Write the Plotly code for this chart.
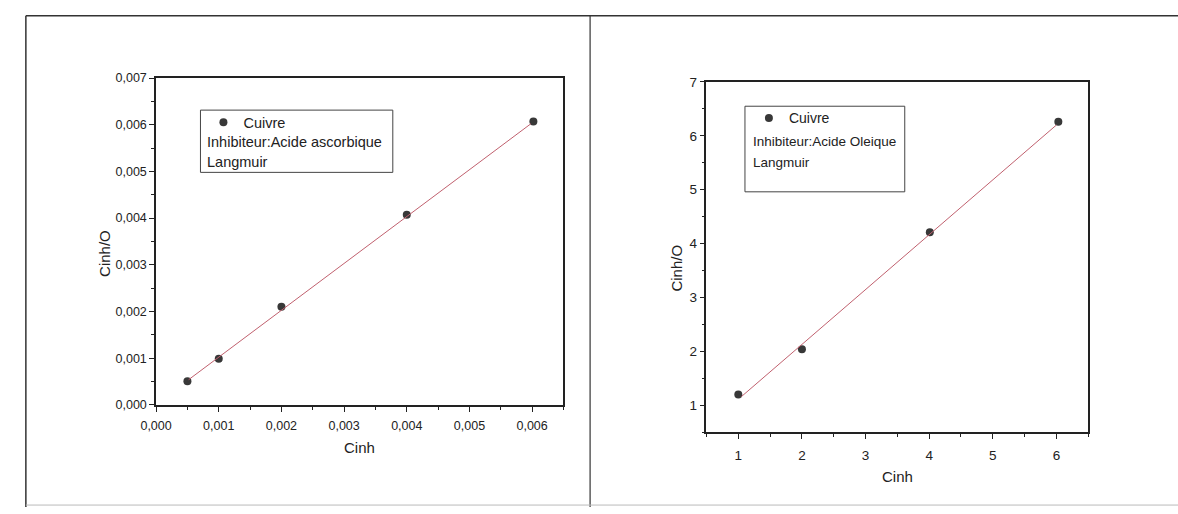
import plotly.graph_objects as go

W, H = 1178, 514

# ---------------- data ----------------
left_x = [0.0005, 0.001, 0.002, 0.004, 0.00602]
left_y = [0.000506, 0.00099, 0.0021, 0.00407, 0.00607]
left_fit_x = [0.00052, 0.00598]
left_fit_y = [0.00054, 0.00602]

right_x = [1.0, 2.0, 4.01, 6.03]
right_y = [1.2, 2.04, 4.21, 6.26]
right_fit_x = [1.05, 6.0]
right_fit_y = [1.16, 6.2]

left_xticks = [0, 0.001, 0.002, 0.003, 0.004, 0.005, 0.006]
left_yticks = [0, 0.001, 0.002, 0.003, 0.004, 0.005, 0.006, 0.007]
right_xticks = [1, 2, 3, 4, 5, 6]
right_yticks = [1, 2, 3, 4, 5, 6, 7]

series_name = "Cuivre"
left_notes = ["Inhibiteur:Acide ascorbique", "Langmuir"]
right_notes = ["Inhibiteur:Acide Oleique", "Langmuir"]
x_title = "Cinh"
y_title = "Cinh/O"

# ---------------- helpers ----------------
def px(x):
    return x / W

def py(y):
    return 1 - y / H

FONT = "Liberation Sans, Arial, sans-serif"
DOT = "#383838"
FIT = "#c0606e"

fig = go.Figure()

fig.add_trace(go.Scatter(x=left_x, y=left_y, mode="markers", name=series_name,
                         marker=dict(size=8, color=DOT), xaxis="x", yaxis="y",
                         legend="legend"))
fig.add_trace(go.Scatter(x=left_fit_x, y=left_fit_y, mode="lines", showlegend=False,
                         line=dict(color=FIT, width=1), xaxis="x", yaxis="y"))
fig.add_trace(go.Scatter(x=right_x, y=right_y, mode="markers", name=series_name,
                         marker=dict(size=8, color=DOT), xaxis="x2", yaxis="y2",
                         legend="legend2"))
fig.add_trace(go.Scatter(x=right_fit_x, y=right_fit_y, mode="lines", showlegend=False,
                         line=dict(color=FIT, width=1), xaxis="x2", yaxis="y2"))

axis_common = dict(showline=True, linecolor="#222", linewidth=1.5, mirror=True,
                   ticks="outside", ticklen=5, tickwidth=1.2, tickcolor="#222",
                   showgrid=False, zeroline=False, fixedrange=True)

fig.update_layout(
    width=W, height=H,
    margin=dict(l=0, r=0, t=0, b=0),
    paper_bgcolor="white", plot_bgcolor="white",
    separators=", ",
    font=dict(family=FONT, color="#222"),
    xaxis=dict(axis_common, domain=[px(142), px(555)], range=[0, 0.0065],
               tickvals=left_xticks, tickformat=".3f",
               minor=dict(ticks="outside", ticklen=3, dtick=0.0005, tickcolor="#222"),
               tickfont=dict(size=12.5), anchor="y", ticklabelstandoff=3),
    yaxis=dict(axis_common, domain=[py(409), py(73)], range=[0, 0.007],
               tickvals=left_yticks, tickformat=".3f",
               minor=dict(ticks="outside", ticklen=3, dtick=0.0005, tickcolor="#222"),
               tickfont=dict(size=12.5), anchor="x"),
    xaxis2=dict(axis_common, domain=[px(700), px(1087)], range=[0.5, 6.5],
                tickvals=right_xticks,
                minor=dict(ticks="outside", ticklen=3, dtick=0.5, tickcolor="#222"),
                tickfont=dict(size=13.5), anchor="y2", ticklabelstandoff=5),
    yaxis2=dict(axis_common, domain=[py(437), py(77)], range=[0.5, 7],
                tickvals=right_yticks,
                minor=dict(ticks="outside", ticklen=3, dtick=0.5, tickcolor="#222"),
                tickfont=dict(size=13.5), anchor="x2"),
    legend=dict(x=px(190), y=py(102), xanchor="left", yanchor="top",
                bgcolor="rgba(0,0,0,0)", borderwidth=0, font=dict(size=14.5),
                itemwidth=30, tracegroupgap=0),
    legend2=dict(x=px(743), y=py(98), xanchor="left", yanchor="top",
                 bgcolor="rgba(0,0,0,0)", borderwidth=0, font=dict(size=14),
                 itemwidth=30, tracegroupgap=0),
)

shapes = [
    # outer panel frames (scanned page boxes)
    dict(type="line", xref="paper", yref="paper", x0=px(10), x1=px(10), y0=py(9), y1=0,
         line=dict(color="#333", width=1.5)),
    dict(type="line", xref="paper", yref="paper", x0=px(10), x1=1, y0=py(9), y1=py(9),
         line=dict(color="#333", width=1.5)),
    dict(type="line", xref="paper", yref="paper", x0=px(582), x1=px(582), y0=py(9), y1=0,
         line=dict(color="#333", width=1.2)),
    dict(type="line", xref="paper", yref="paper", x0=px(10), x1=1, y0=py(512), y1=py(512),
         line=dict(color="#bbb", width=1)),
    # legend boxes
    dict(type="rect", xref="paper", yref="paper", x0=px(187), x1=px(382), y0=py(170), y1=py(106),
         line=dict(color="#444", width=1), fillcolor="rgba(0,0,0,0)"),
    dict(type="rect", xref="paper", yref="paper", x0=px(739), x1=px(901), y0=py(190), y1=py(102),
         line=dict(color="#444", width=1), fillcolor="rgba(0,0,0,0)"),
]
fig.update_layout(shapes=shapes)

ann = []
# legend notes
for i, t in enumerate(left_notes):
    ann.append(dict(text=t, x=px(192), y=py(139 + 20 * i), xref="paper", yref="paper",
                    xanchor="left", yanchor="middle", showarrow=False,
                    font=dict(size=14.5, color="#222")))
for i, t in enumerate(right_notes):
    ann.append(dict(text=t, x=px(745), y=py(138 + 22 * i), xref="paper", yref="paper",
                    xanchor="left", yanchor="middle", showarrow=False,
                    font=dict(size=13.5, color="#222")))
# axis titles
titles = [
    (x_title, 348, 453, 0),
    (y_title, 89, 253, -90),
    (x_title, 894, 483, 0),
    (y_title, 670, 268, -90),
]
for t, x, y, ang in titles:
    ann.append(dict(text=t, x=px(x), y=py(y), xref="paper", yref="paper",
                    xanchor="center", yanchor="middle", showarrow=False,
                    textangle=ang, font=dict(size=15)))
fig.update_layout(annotations=ann)

fig.write_html(
    "out.html",
    config=dict(displayModeBar=False),
    post_script="document.body.style.margin='0';document.body.style.overflow='hidden';",
)
